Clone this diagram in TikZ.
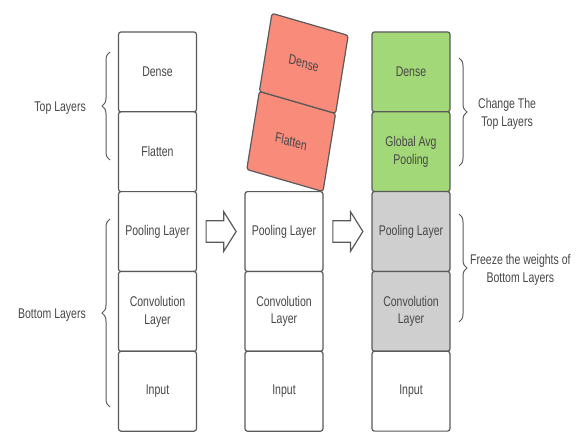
\documentclass[tikz,border=0pt]{standalone}
\usepackage{fontspec}
\setmainfont{Liberation Sans}
\usetikzlibrary{shapes.arrows,decorations.pathreplacing,positioning,calc}
\definecolor{txt}{HTML}{474747}
\definecolor{edge}{HTML}{5A5A5A}
\definecolor{redbox}{HTML}{F98B7B}
\definecolor{greenbox}{HTML}{A2D877}
\definecolor{graybox}{HTML}{CFCFCF}
\tikzset{
  layer/.style={draw=edge, line width=1.2pt, rounded corners=2.5pt, fill=white,
    minimum width=78pt, minimum height=59.6pt, inner sep=0pt, outer sep=0pt,
    align=center, text=txt, font=\fontsize{10.5}{13.4}\selectfont},
  lbl/.style={inner sep=0pt, align=center, text=txt, font=\fontsize{10.5}{13.4}\selectfont},
  bigarrow/.style={shape=single arrow, draw=edge, line width=1.2pt, fill=white,
    minimum height=30pt, inner xsep=0pt, inner ysep=7.45pt,
    single arrow head extend=6.6pt, single arrow tip angle=100},
  curly/.style={decorate, decoration={brace, amplitude=8pt}, draw=edge, line width=1pt}
}
\begin{document}
\begin{tikzpicture}[x=1pt,y=1pt]
\useasboundingbox (0,0) rectangle (584,432);
\begin{scope}[y=0.746269pt, yscale=1.34, every node/.append style={transform shape}]
  % column 1
  \node[layer] (d1) at (157.5,360.1) {Dense};
  \node[layer, below=0pt of d1] (f1) {Flatten};
  \node[layer, below=0pt of f1] (p1) {Pooling Layer};
  \node[layer, below=0pt of p1] (c1) {Convolution\\Layer};
  \node[layer, below=0pt of c1] (i1) {Input};
  % column 2
  \node[layer] (p2) at ($(p1)+(126.5,0)$) {Pooling Layer};
  \node[layer, below=0pt of p2] (c2) {Convolution\\Layer};
  \node[layer, below=0pt of c2] (i2) {Input};
  \node[layer, fill=redbox, rotate=-12.2, anchor=south east] (rf) at (p2.north east) {Flatten};
  \node[layer, fill=redbox, rotate=-12.2, anchor=south east] (rd) at (rf.north east) {Dense};
  % column 3
  \node[layer, fill=greenbox] (d3) at ($(d1)+(253.5,0)$) {Dense};
  \node[layer, fill=greenbox, below=0pt of d3] (g3) {Global Avg\\Pooling};
  \node[layer, fill=graybox, below=0pt of g3] (p3) {Pooling Layer};
  \node[layer, fill=graybox, below=0pt of p3] (c3) {Convolution\\Layer};
  \node[layer, below=0pt of c3] (i3) {Input};
  % arrows
  \node[bigarrow, xshift=-3pt] (a1) at ($(p1.east)!0.5!(p2.west)$) {};
  \node[bigarrow, xshift=-3pt] (a2) at ($(p2.east)!0.5!(p3.west)$) {};
  % labels
  \node[lbl, anchor=east] (ltop) at (86,324) {Top Layers};
  \node[lbl, anchor=east] (lbot) at (86,117) {Bottom Layers};
  \node[lbl, anchor=west] (lchg) at (478,318) {Change The\\Top Layers};
  \node[lbl, anchor=west] (lfrz) at (470,162.5) {Freeze the weights of\\Bottom Layers};
  % brace ends
  \coordinate (bt1) at (110,272);
  \coordinate (bt2) at (110,380);
  \coordinate (bb1) at (110,25);
  \coordinate (bb2) at (110,213);
  \coordinate (bc1) at (459,374);
  \coordinate (bc2) at (459,266);
  \coordinate (bf1) at (459,218);
  \coordinate (bf2) at (459,110);
\end{scope}
\draw[curly] (bt1) -- (bt2);
\draw[curly] (bb1) -- (bb2);
\draw[curly] (bc1) -- (bc2);
\draw[curly] (bf1) -- (bf2);
\end{tikzpicture}
\end{document}
